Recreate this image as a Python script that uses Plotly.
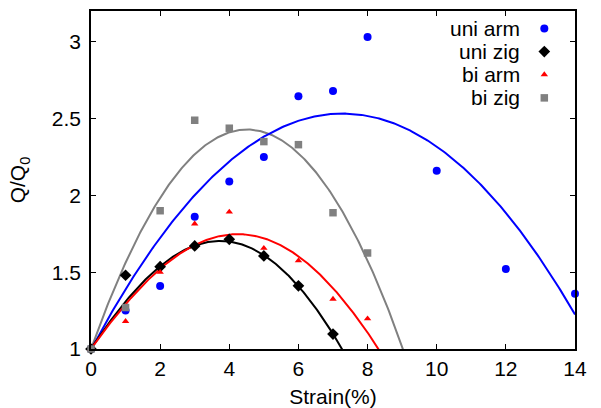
import numpy as np
import plotly.graph_objects as go

# ---- data ----
uni_arm_x = [0, 1, 2, 3, 4, 5, 6, 7, 8, 10, 12, 14]
uni_arm_y = [1.0, 1.25, 1.41, 1.86, 2.09, 2.25, 2.645, 2.68, 3.03, 2.16, 1.52, 1.36]

uni_zig_x = [0, 1, 2, 3, 4, 5, 6, 7]
uni_zig_y = [1.0, 1.48, 1.536, 1.671, 1.714, 1.606, 1.411, 1.097]

bi_arm_x = [0, 1, 2, 3, 4, 5, 6, 7, 8]
bi_arm_y = [1.0, 1.18, 1.50, 1.815, 1.892, 1.656, 1.575, 1.325, 1.197]

bi_zig_x = [0, 1, 2, 3, 4, 5, 6, 7, 8]
bi_zig_y = [1.0, 1.27, 1.90, 2.489, 2.437, 2.35, 2.33, 1.887, 1.625]

# fit curves: points
uni_arm_fit_x = [0, 1, 2.29, 3.16, 5.13, 7.25, 8.36, 10, 12, 14]
uni_arm_fit_y = [1.0, 1.38, 1.81, 2.048, 2.40, 2.527, 2.50, 2.316, 1.89, 1.223]
uni_zig_fit_x = [0, 1, 2, 3, 4, 5, 6, 7, 7.27]
uni_zig_fit_y = [1.0, 1.32, 1.526, 1.671, 1.714, 1.601, 1.411, 1.097, 1.0]
bi_arm_fit_x = [0, 1, 2, 3, 4.12, 5, 6, 7, 8, 8.31]
bi_arm_fit_y = [1.0, 1.30, 1.504, 1.69, 1.75, 1.715, 1.60, 1.40, 1.11, 1.0]
bi_zig_fit_x = [0, 1.55, 2.33, 4.51, 7.45, 7.69, 8.36, 9.03]
bi_zig_fit_y = [1.0, 1.807, 2.10, 2.424, 1.84, 1.71, 1.385, 1.0]

series_names = ["uni arm", "uni zig", "bi arm", "bi zig"]
x_ticks = [0, 2, 4, 6, 8, 10, 12, 14]
y_ticks = [1, 1.5, 2, 2.5, 3]
y_tick_text = ["1", "1.5", "2", "2.5", "3"]

# ---- styling ----
colors = ["#0000ff", "#000000", "#ff0000", "#808080"]
symbols = ["circle", "diamond", "triangle-up", "square"]
sizes = [8, 9, 6.5, 7.5]
FONT = "Liberation Sans, Arial, sans-serif"
FS = 21

fig = go.Figure()

fits = [
    (uni_arm_fit_x, uni_arm_fit_y, 3, 14.0),
    (uni_zig_fit_x, uni_zig_fit_y, 4, 7.6),
    (bi_arm_fit_x, bi_arm_fit_y, 4, 8.6),
    (bi_zig_fit_x, bi_zig_fit_y, 3, 9.3),
]
# fit lines (drawn under the points)
for i in [3, 0, 1, 2]:
    fx, fy, deg, xmax = fits[i]
    coef = np.polyfit(fx, fy, deg)
    xs = np.linspace(0, xmax, 300)
    fig.add_trace(go.Scatter(x=xs, y=np.polyval(coef, xs), mode="lines",
                             line=dict(color=colors[i], width=2),
                             showlegend=False, hoverinfo="skip"))

pts = [(uni_arm_x, uni_arm_y), (uni_zig_x, uni_zig_y),
       (bi_arm_x, bi_arm_y), (bi_zig_x, bi_zig_y)]
for i, (px, py) in enumerate(pts):
    fig.add_trace(go.Scatter(x=px, y=py, mode="markers", name=series_names[i],
                             marker=dict(color=colors[i], symbol=symbols[i],
                                         size=sizes[i], line=dict(width=0)),
                             cliponaxis=False, showlegend=False))

# custom legend (text left of symbol, as in the reference)
leg_x_text = 0.890
leg_x_mark = 0.9366
leg_rows = [0.948, 0.880, 0.812, 0.743]
for i in range(4):
    fig.add_trace(go.Scatter(x=[leg_x_mark], y=[leg_rows[i]], mode="markers",
                             xaxis="x2", yaxis="y2",
                             marker=dict(color=colors[i], symbol=symbols[i],
                                         size=sizes[i], line=dict(width=0)),
                             showlegend=False, hoverinfo="skip"))
    fig.add_annotation(x=leg_x_text, y=leg_rows[i], xref="paper", yref="paper",
                       text=series_names[i], showarrow=False, xanchor="right",
                       yanchor="middle", font=dict(family=FONT, size=FS, color="black"))

axis_common = dict(showline=True, linecolor="black", linewidth=1.5, mirror="ticks",
                   ticks="inside", ticklen=5, tickwidth=1, tickcolor="black",
                   showgrid=False, zeroline=False, automargin=False,
                   tickfont=dict(family=FONT, size=FS, color="black"))

fig.update_layout(
    width=601, height=408,
    margin=dict(l=91, r=26, t=11, b=59),
    paper_bgcolor="white", plot_bgcolor="white",
    showlegend=False,
    font=dict(family=FONT, size=FS, color="black"),
    xaxis=dict(range=[0, 14], tickvals=x_ticks,
               title=dict(text="Strain(%)", font=dict(family=FONT, size=FS), standoff=14),
               **axis_common),
    yaxis=dict(range=[1, 3.2], tickvals=y_ticks, ticktext=y_tick_text,
               ticklabelstandoff=4,
               title=dict(text="Q/Q<sub>0</sub>", font=dict(family=FONT, size=FS), standoff=20),
               **axis_common),
    xaxis2=dict(overlaying="x", range=[0, 1], visible=False),
    yaxis2=dict(overlaying="y", range=[0, 1], visible=False),
)

fig.write_html("out.html")
